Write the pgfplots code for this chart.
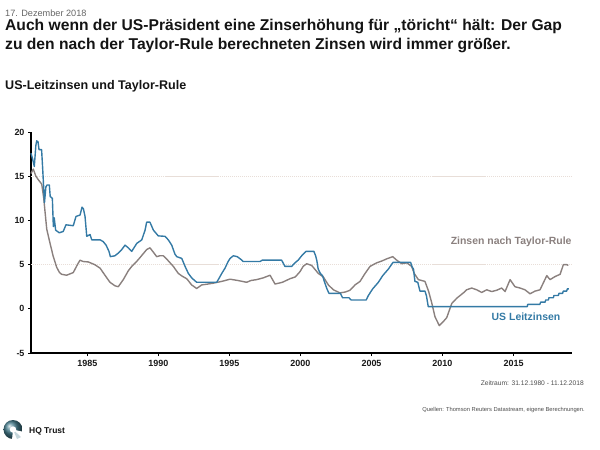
\documentclass[border=0pt]{standalone}
\usepackage{pgfplots}
\pgfplotsset{compat=1.18}
\usepackage{fontspec}
\setmainfont{Liberation Sans}
\definecolor{fedblue}{RGB}{52,122,165}
\definecolor{taylorgray}{RGB}{138,128,126}
\definecolor{gridc}{RGB}{232,222,216}
\definecolor{logoteal}{RGB}{22,92,112}
\begin{document}
\begin{tikzpicture}
\path[use as bounding box] (0bp,0bp) rectangle (600bp,-450bp);
% header
\node[anchor=base west,inner sep=0,text=black!60,font=\fontsize{9.2}{11}\selectfont] at (5bp,-16bp) {17. Dezember 2018};
\node[anchor=base west,inner sep=0,text=black!92,font=\fontsize{15.7}{18}\selectfont\bfseries] at (5bp,-30bp) {Auch wenn der US-Präsident eine Zinserhöhung für „töricht“ hält: Der Gap};
\node[anchor=base west,inner sep=0,text=black!92,font=\fontsize{15.7}{18}\selectfont\bfseries] at (5bp,-49bp) {zu den nach der Taylor-Rule berechneten Zinsen wird immer größer.};
\node[anchor=base west,inner sep=0,text=black!92,font=\fontsize{12.6}{14}\selectfont\bfseries] at (5bp,-89bp) {US-Leitzinsen und Taylor-Rule};
% footer
\node[anchor=base east,inner sep=0,text=black!70,font=\fontsize{6.7}{8}\selectfont] at (584bp,-385.5bp) {Zeitraum: 31.12.1980 - 11.12.2018};
\node[anchor=base east,inner sep=0,text=black!70,font=\fontsize{5.8}{7}\selectfont] at (585bp,-411bp) {Quellen: Thomson Reuters Datastream, eigene Berechnungen.};
\shade[ball color=logoteal!80!white] (13bp,-429.5bp) circle (9.5bp);
\fill[white] (13bp,-429.5bp) -- (12bp,-440bp) -- (24bp,-440bp) -- (24bp,-432bp) -- cycle;
\fill[logoteal!25!white] (13bp,-429.5bp) -- (17bp,-439bp) -- (21bp,-437bp) -- cycle;
\fill[white] (13bp,-429.5bp) circle (3.2bp);
\node[anchor=base west,inner sep=0,text=black!92,font=\fontsize{8.5}{10}\selectfont\bfseries] at (29bp,-433bp) {HQ Trust};
\begin{axis}[
  at={(31bp,-353bp)}, anchor=south west,
  scale only axis, width=540.7bp, height=221bp,
  xmin=1981.06, xmax=2018.79, ymin=-5, ymax=20,
  axis x line=bottom, axis y line=left,
  axis line style={-, black, line width=1.4pt},
  xtick={1984.99,1989.95,1994.90,1999.86,2004.82,2009.77,2014.73},
  xticklabels={1985,1990,1995,2000,2005,2010,2015},
  ytick={-5,0,5,10,15,20},
  extra y ticks={5,15}, extra y tick labels={},
  extra y tick style={grid=major, major grid style={gridc, line width=0.9pt, dash pattern=on 1.2pt off 0.8pt}, major tick length=0pt},
  tick align=outside, major tick length=3bp,
  tick style={black, line width=1pt},
  /pgf/number format/assume math mode=true,
  /pgf/number format/1000 sep={},
  ticklabel style={font=\fontsize{9}{10}\selectfont\bfseries, text=black!90},
  xticklabel style={yshift=-0.5bp},
  clip=false,
]
\addplot[taylorgray, line width=1.4pt, line join=round] coordinates {
(1981.06,15.3) (1981.15,15.6) (1981.22,15.8) (1981.40,15.0) (1981.57,14.6) (1981.81,14.1)
(1981.95,12.5) (1982.05,10.8) (1982.16,9.0) (1982.39,7.4) (1982.60,6.0) (1982.85,4.7)
(1983.05,4.1) (1983.20,3.9) (1983.55,3.8) (1984.01,4.1) (1984.30,5.0) (1984.48,5.5)
(1984.70,5.35) (1985.06,5.3) (1985.50,5.0) (1985.88,4.6) (1986.22,3.8) (1986.57,3.0)
(1986.92,2.6) (1987.15,2.5) (1987.50,3.3) (1987.85,4.3) (1988.09,4.8) (1988.40,5.3)
(1988.67,5.8) (1989.13,6.7) (1989.36,6.9) (1989.60,6.4) (1989.83,5.9) (1990.05,6.0)
(1990.29,6.0) (1990.60,5.5) (1990.99,4.8) (1991.34,4.0) (1991.60,3.7) (1991.93,3.4)
(1992.27,2.7) (1992.62,2.3) (1992.97,2.7) (1993.40,2.8) (1993.78,2.9) (1994.37,3.1)
(1994.95,3.35) (1995.50,3.2) (1996.11,3.0) (1996.40,3.2) (1996.80,3.3) (1997.27,3.5)
(1997.74,3.8) (1998.09,2.8) (1998.60,3.0) (1999.13,3.4) (1999.50,3.6) (1999.83,4.2)
(2000.05,4.8) (2000.30,5.1) (2000.65,4.9) (2001.11,4.0) (2001.46,3.6) (2001.81,2.7)
(2002.16,2.15) (2002.62,1.8) (2003.00,1.9) (2003.32,2.1) (2003.67,2.7) (2004.02,3.1)
(2004.37,4.0) (2004.72,4.8) (2005.18,5.2) (2005.53,5.4) (2005.88,5.65) (2006.30,5.9)
(2006.58,5.5) (2006.93,5.1) (2007.28,5.2) (2007.62,4.8) (2007.80,4.0) (2008.09,3.3)
(2008.55,3.1) (2008.80,2.0) (2009.02,0.7) (2009.25,-0.9) (2009.55,-1.9) (2009.80,-1.5)
(2010.07,-1.0) (2010.42,0.6) (2010.77,1.2) (2011.23,1.8) (2011.46,2.15) (2011.81,2.35)
(2012.16,2.15) (2012.51,1.85) (2012.86,2.15) (2013.21,1.95) (2013.56,2.1) (2013.90,2.35)
(2014.14,1.95) (2014.49,3.3) (2014.83,2.5) (2015.18,2.35) (2015.53,2.15) (2015.88,1.7)
(2016.23,2.0) (2016.58,2.15) (2017.05,3.75) (2017.28,3.3) (2017.63,3.65) (2017.98,3.9)
(2018.21,5.0) (2018.45,5.0) (2018.55,4.9)
};
\addplot[fedblue, line width=1.4pt, line join=round] coordinates {
(1981.06,17.6) (1981.18,16.9) (1981.29,16.1) (1981.40,18.5) (1981.46,19.0) (1981.55,18.9)
(1981.62,18.0) (1981.80,18.0) (1981.88,15.7) (1982.00,12.0) (1982.10,13.8) (1982.18,14.0)
(1982.34,14.0) (1982.40,12.7) (1982.55,12.5) (1982.62,9.3) (1982.68,10.3) (1982.78,8.9)
(1983.03,8.6) (1983.31,8.75) (1983.50,9.5) (1984.01,9.4) (1984.20,10.45) (1984.48,10.6)
(1984.62,11.5) (1984.72,11.3) (1984.83,10.45) (1984.95,8.2) (1985.18,8.4) (1985.30,7.8)
(1985.88,7.8) (1986.10,7.6) (1986.30,7.2) (1986.50,6.5) (1986.60,5.9) (1986.92,6.0)
(1987.15,6.3) (1987.39,6.7) (1987.62,7.2) (1987.85,6.9) (1988.09,6.5) (1988.44,7.4)
(1988.79,7.8) (1989.02,8.9) (1989.13,9.8) (1989.36,9.8) (1989.60,8.9) (1989.94,8.25)
(1990.41,8.2) (1990.64,7.8) (1990.88,7.2) (1991.10,6.2) (1991.23,5.9) (1991.58,5.7)
(1991.81,4.8) (1992.04,4.0) (1992.27,3.5) (1992.62,3.0) (1994.02,3.0) (1994.20,3.5)
(1994.37,4.0) (1994.60,4.6) (1994.80,5.3) (1994.95,5.7) (1995.18,6.0) (1995.45,5.9)
(1995.70,5.6) (1995.87,5.35) (1997.04,5.35) (1997.20,5.5) (1998.55,5.5) (1998.78,4.8)
(1999.25,4.8) (1999.48,5.2) (1999.70,5.5) (1999.95,6.0) (2000.25,6.5) (2000.80,6.5)
(2000.92,6.0) (2001.00,5.5) (2001.10,4.5) (2001.25,4.0) (2001.40,3.75) (2001.55,3.0)
(2001.70,2.3) (2001.85,1.75) (2002.65,1.75) (2002.80,1.25) (2003.25,1.25) (2003.40,1.0)
(2004.45,1.0) (2004.60,1.5) (2004.90,2.25) (2005.30,3.0) (2005.60,3.75) (2006.00,4.5)
(2006.32,5.25) (2007.55,5.25) (2007.65,4.75) (2007.75,4.5) (2007.85,3.1) (2008.05,3.0)
(2008.20,2.0) (2008.55,2.0) (2008.65,1.5) (2008.78,0.25) (2015.69,0.25) (2015.72,0.5)
(2016.57,0.5) (2016.62,0.75) (2016.93,0.75) (2016.98,1.0) (2017.16,1.0) (2017.20,1.25)
(2017.51,1.25) (2017.55,1.5) (2017.86,1.5) (2017.90,1.75) (2018.16,1.75) (2018.20,2.0)
(2018.44,2.0) (2018.48,2.25) (2018.60,2.25)
};
\node[anchor=east, inner sep=0, text=taylorgray, font=\fontsize{10.5}{12}\selectfont\bfseries] at (axis cs:2018.79,7.55) {Zinsen nach Taylor-Rule};
\node[anchor=center, inner sep=0, text=fedblue, font=\fontsize{10.5}{12}\selectfont\bfseries] at (axis cs:2015.6,-0.9) {US Leitzinsen};
\end{axis}
\end{tikzpicture}
\end{document}
